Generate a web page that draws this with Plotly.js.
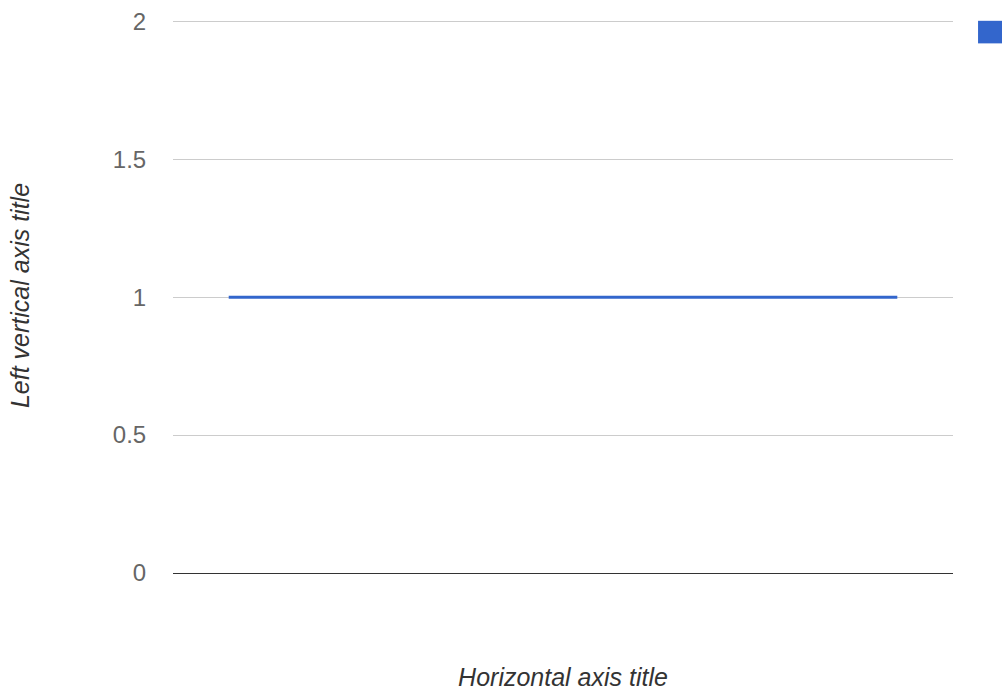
<!DOCTYPE html>
<html>
<head>
<meta charset="utf-8">
<script src="https://cdn.plot.ly/plotly-3.0.1.min.js"></script>
<style>html,body{margin:0;padding:0;background:#fff;}#chart{width:1003px;height:696px;}</style>
</head>
<body>
<div id="chart"></div>
<script>
var categories = ['', ' ', '  ', '   ', '    ', '     ', '      '];
var seriesValues = [1, 1, 1, 1, 1, 1, 1];
var seriesName = '';
var yTickValues = [0, 0.5, 1, 1.5, 2];
var yTickLabels = ['0', '0.5', '1', '1.5', '2'];

var xIdx = categories.map(function (c, i) { return i; });

var trace = {
  x: xIdx,
  y: seriesValues,
  name: seriesName,
  type: 'scatter',
  mode: 'lines',
  line: { color: '#3366cc', width: 3 },
  showlegend: false,
  hoverinfo: 'y'
};

// keep 0 at y=573 px and 2 at y=21 px while leaving head-room so the top gridline is drawn
var yTop = 2.012;
var pxPerUnit = 552 / 2;
var topMargin = 573 - yTop * pxPerUnit;

var layout = {
  width: 1003,
  height: 696,
  margin: { l: 173, r: 50, t: topMargin, b: 123, autoexpand: false },
  paper_bgcolor: '#ffffff',
  plot_bgcolor: '#ffffff',
  font: { family: 'Liberation Sans, Arial, sans-serif', size: 24, color: '#666' },
  showlegend: false,
  xaxis: {
    range: [-0.5, categories.length - 0.5],
    showticklabels: false,
    showgrid: false,
    zeroline: false,
    showline: false,
    ticks: '',
    fixedrange: true,
    automargin: false,
    title: { text: 'Horizontal axis title', standoff: 95, font: { size: 25, color: '#333', family: 'Liberation Sans, Arial, sans-serif' } }
  },
  yaxis: {
    range: [0, yTop],
    tickvals: yTickValues,
    ticktext: yTickLabels,
    showgrid: true,
    gridcolor: '#cccccc',
    gridwidth: 1,
    zeroline: true,
    zerolinecolor: '#333333',
    zerolinewidth: 1,
    showline: false,
    ticks: 'outside',
    ticklen: 21,
    tickcolor: 'rgba(0,0,0,0)',
    tickfont: { size: 24, color: '#666' },
    fixedrange: true,
    automargin: false,
    title: { text: 'Left vertical axis title', standoff: 76, font: { size: 25, color: '#333', family: 'Liberation Sans, Arial, sans-serif' } }
  },
  shapes: [{
    type: 'rect', xref: 'x domain', yref: 'y',
    x0: 1.0321, x1: 1.0628, y0: 1.92, y1: 2.0018,
    fillcolor: '#3366cc', line: { width: 0 }
  }]
};

Plotly.newPlot('chart', [trace], layout, { displayModeBar: false, staticPlot: true });

setTimeout(function () {
  document.querySelectorAll('.xtitle, .ytitle').forEach(function (el) { el.style.fontStyle = 'italic'; });
}, 0);
</script>
</body>
</html>
